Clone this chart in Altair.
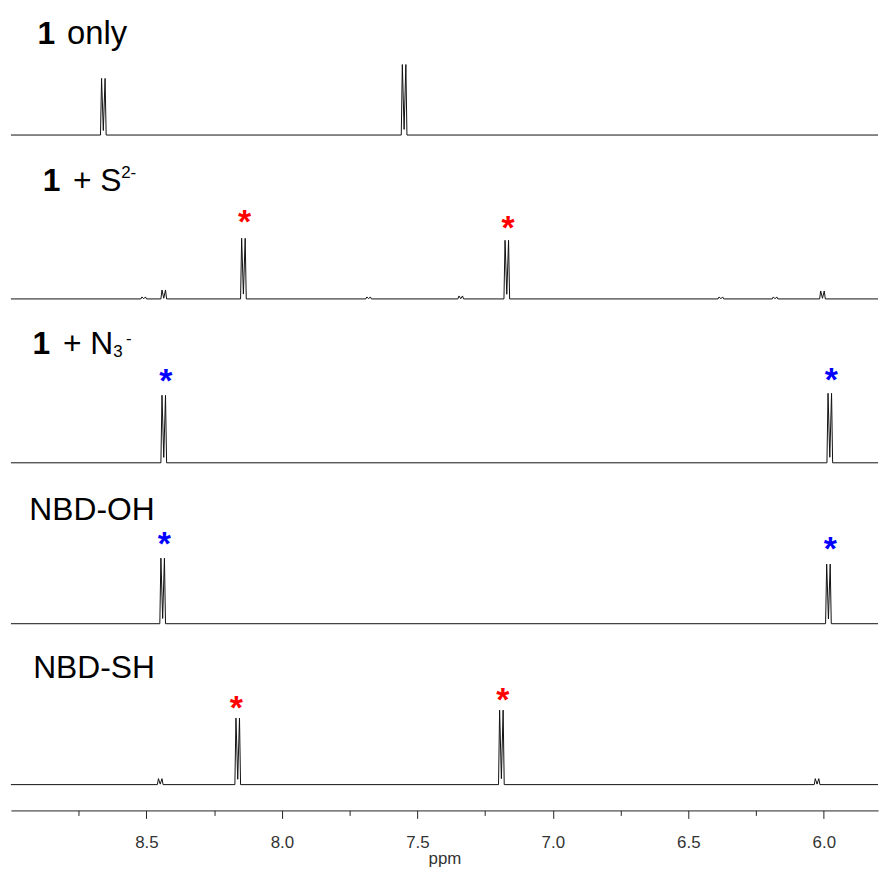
import altair as alt
import pandas as pd

# ---- data ----
spectra = ["1 only", "1 + S2-", "1 + N3-", "NBD-OH", "NBD-SH"]
baselines = [680, 515, 350, 188, 26]          # vertical offset of each trace

# peaks per spectrum: (centre ppm, height of left line, height of right line)
peaks = {
    "1 only":  [(8.659, 57, 57), (7.549, 71, 71)],
    "1 + S2-": [(8.510, 2, 2), (8.436, 9, 9), (8.142, 61, 61), (7.680, 2, 2),
                (7.340, 3, 3), (7.170, 59, 59), (6.380, 2, 2), (6.180, 2, 2),
                (6.005, 8, 8)],
    "1 + N3-": [(8.436, 68, 68), (5.978, 70, 70)],
    "NBD-OH":  [(8.440, 66, 66), (5.983, 60, 60)],
    "NBD-SH":  [(8.449, 6, 6), (8.163, 67, 67), (7.190, 75, 75), (6.025, 6, 6)],
}

# asterisks: (spectrum, ppm, height above the trace baseline, colour)
star_spec = ["1 + S2-", "1 + S2-", "1 + N3-", "1 + N3-", "NBD-OH", "NBD-OH", "NBD-SH", "NBD-SH"]
star_ppm = [8.138, 7.165, 8.428, 5.972, 8.434, 5.976, 8.168, 7.185]
star_h = [81, 75, 86, 87, 84, 79, 81, 89]
star_col = ["red", "red", "blue", "blue", "blue", "blue", "red", "red"]

# label pieces: text, ppm of left edge, y of baseline, size, weight
lab_text = ["1", "only",
            "1", "+ S", "2-",
            "1", "+ N", "3", "-",
            "NBD-OH", "NBD-SH"]
lab_ppm = [8.902, 8.793,
           8.883, 8.771, 8.593,
           8.920, 8.808, 8.622, 8.575,
           8.932, 8.918]
lab_y = [772, 772,
         624, 624, 637,
         460, 460, 457, 470,
         292, 133]
lab_size = [32, 33, 32, 32, 17, 32, 32, 17, 17, 32, 32]
lab_weight = ["bold", "normal", "bold", "normal", "normal",
              "bold", "normal", "normal", "normal", "normal", "normal"]

major_ticks = [8.5, 8.0, 7.5, 7.0, 6.5, 6.0]
minor_ticks = [8.75, 8.25, 7.75, 7.25, 6.75, 6.25]
ppm_min, ppm_max = 5.8, 9.0

# ---- build trace vertices ----
SPLIT = 0.0065   # half doublet splitting (ppm)
FOOT = 0.004     # half width of a line foot (ppm)
rows = []
for s, base in zip(spectra, baselines):
    pts = [(ppm_max, 0.0), (ppm_min, 0.0)]
    for c, h1, h2 in peaks[s]:
        pts += [(c + SPLIT + FOOT, 0.0), (c + SPLIT, h1), (c, 0.08 * min(h1, h2)),
                (c - SPLIT, h2), (c - SPLIT - FOOT, 0.0)]
    pts.sort(key=lambda p: -p[0])
    for i, (x, y) in enumerate(pts):
        rows.append({"spectrum": s, "ppm": x, "y": base + y, "i": i})
trace = pd.DataFrame(rows)

stars = pd.DataFrame({
    "spectrum": star_spec, "ppm": star_ppm,
    "y": [baselines[spectra.index(s)] + h for s, h in zip(star_spec, star_h)],
    "col": star_col,
})
labels = pd.DataFrame({"t": lab_text, "ppm": lab_ppm, "y": lab_y,
                       "size": lab_size, "weight": lab_weight})

xscale = alt.Scale(domain=[ppm_min, ppm_max], reverse=True, nice=False, zero=False)
yscale = alt.Scale(domain=[0, 813], nice=False, zero=False)
FONT = "Liberation Sans"

lines = alt.Chart(trace).mark_line(color="#111", strokeWidth=1).encode(
    x=alt.X("ppm:Q", scale=xscale,
            axis=alt.Axis(values=major_ticks, format=".1f", tickSize=8, tickColor="#222",
                          domainColor="#222", labelFontSize=17, labelColor="#333",
                          labelFont=FONT, labelPadding=16, grid=False, orient="bottom",
                          title="ppm", titleFont=FONT, titleFontSize=17,
                          titleFontWeight="normal", titleColor="#333", titlePadding=0)),
    y=alt.Y("y:Q", scale=yscale, axis=None),
    detail="spectrum:N",
    order="i:Q",
)

minor = alt.Chart(trace).mark_point(opacity=0).encode(
    x=alt.X("ppm:Q", scale=xscale,
            axis=alt.Axis(values=minor_ticks, tickSize=5, tickColor="#222", labels=False,
                          domain=False, grid=False, title=None, orient="bottom")),
    y=alt.Y("y:Q", scale=yscale, axis=None),
)

star_layer = alt.Chart(stars).mark_text(
    text="*", font=FONT, fontSize=34, fontWeight="bold", baseline="middle", dy=5
).encode(
    x=alt.X("ppm:Q", scale=xscale, axis=None),
    y=alt.Y("y:Q", scale=yscale, axis=None),
    color=alt.Color("col:N", scale=alt.Scale(domain=["red", "blue"], range=["#ff0000", "#0000ff"]),
                    legend=None),
)

def label_layer(weight):
    return alt.Chart(labels).transform_filter(
        alt.datum.weight == weight
    ).mark_text(
        font=FONT, align="left", baseline="alphabetic", color="#000", fontWeight=weight
    ).encode(
        x=alt.X("ppm:Q", scale=xscale, axis=None),
        y=alt.Y("y:Q", scale=yscale, axis=None),
        text="t:N",
        size=alt.Size("size:Q", scale=None, legend=None),
    )

chart = alt.layer(lines, minor, star_layer, label_layer("bold"), label_layer("normal")
                  ).resolve_axis(x="independent").properties(
    width=873, height=813, padding={"left": 8, "top": 0, "right": 0, "bottom": 0}
).configure_view(stroke=None)

chart.save("out.html", embed_options={"renderer": "svg", "actions": False})
